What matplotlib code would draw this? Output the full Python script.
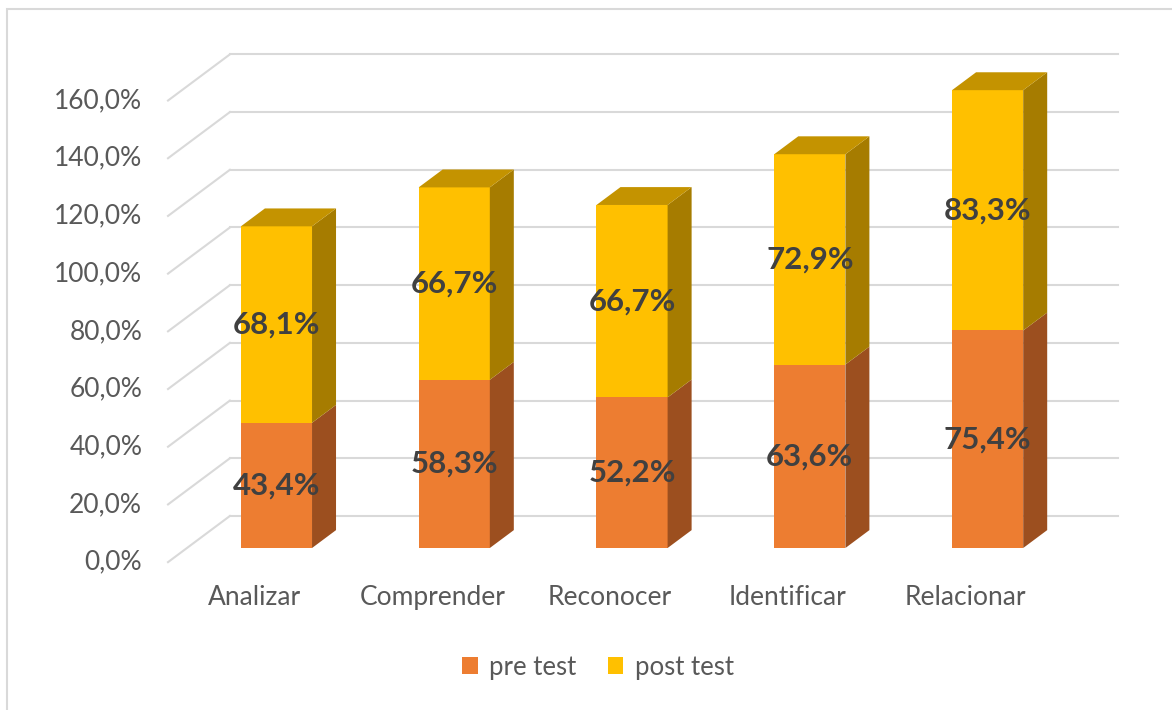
import numpy as np
import matplotlib.pyplot as plt
from matplotlib.patches import Polygon, Rectangle, Patch

categorias = ["Analizar", "Comprender", "Reconocer", "Identificar", "Relacionar"]
pre_test = [43.4, 58.3, 52.2, 63.6, 75.4]
post_test = [68.1, 66.7, 66.7, 72.9, 83.3]
ticks = [0, 20, 40, 60, 80, 100, 120, 140, 160]

plt.rcParams['font.family'] = ['Lato', 'DejaVu Sans']

C_PRE = "#ED7D31"
C_PRE_SIDE = "#9C4F1F"
C_POST = "#FFC000"
C_POST_SIDE = "#A67C00"
C_POST_TOP = "#C49300"
C_GRID = "#D9D9D9"
C_TXT = "#595959"

# pseudo 3d: oblique offsets in data units
W = 0.40               # bar front width (category units)
BDX, BDY = 0.135, 6.2  # bar depth
WDY = 11.1             # bar front -> back wall
FDX, FDY = -0.133, -4.9  # bar front -> front edge of side wall

fig = plt.figure(figsize=(11.72, 7.10), dpi=100)
ax = fig.add_axes([0, 0, 1, 1])
ax.set_xlim(-1.555, 5.037)
ax.set_ylim(-56.15, 189.95)
ax.axis("off")

# chart border (only left and top edges fall inside the image)
fig.patches.append(Rectangle((7 / 1172, -0.1), 1.2, 1.1 - 9 / 710,
                             transform=fig.transFigure, fill=False,
                             ec="#D9D9D9", lw=1.5))

# back wall gridlines and left wall diagonals
x_back0 = -0.262
x_back1 = 4.733
x_front = -0.61
for t in ticks:
    ax.plot([x_back0, x_back1], [t + WDY, t + WDY], color=C_GRID, lw=1.5, zorder=1)
    ax.plot([x_front, x_back0], [t + FDY, t + WDY], color=C_GRID, lw=1.5, zorder=1)
    ax.text(-0.755, t + FDY, f"{t:.1f}%".replace(".", ","), ha="right", va="center",
            fontsize=19, color=C_TXT)


def caja(x0, y0, y1, front, side, top=None):
    x1 = x0 + W
    ax.add_patch(Rectangle((x0, y0), W, y1 - y0, fc=front, ec="none", zorder=3))
    ax.add_patch(Polygon([(x1, y0), (x1 + BDX, y0 + BDY), (x1 + BDX, y1 + BDY), (x1, y1)],
                         closed=True, fc=side, ec="none", zorder=3))
    if top is not None:
        ax.add_patch(Polygon([(x0, y1), (x0 + BDX, y1 + BDY), (x1 + BDX, y1 + BDY), (x1, y1)],
                             closed=True, fc=top, ec="none", zorder=3))


for i, (pre, post) in enumerate(zip(pre_test, post_test)):
    x0 = i - W / 2
    total = pre + post
    caja(x0, 0, pre, C_PRE, C_PRE_SIDE)
    caja(x0, pre, total, C_POST, C_POST_SIDE, C_POST_TOP)
    ax.text(i, pre / 2, f"{pre:.1f}%".replace(".", ","), ha="center", va="center",
            fontsize=22.5, fontweight="bold", color="#404040", zorder=5)
    ax.text(i, pre + post / 2, f"{post:.1f}%".replace(".", ","), ha="center", va="center",
            fontsize=22.5, fontweight="bold", color="#404040", zorder=5)
    ax.text(i + FDX + 0.01, -17, categorias[i], ha="center", va="center",
            fontsize=19, color=C_TXT)

handles = [Patch(fc=C_PRE, label="pre test"), Patch(fc=C_POST, label="post test")]
fig.legend(handles=handles, loc="center", bbox_to_anchor=(598 / 1172, 1 - 667 / 710),
           ncol=2, frameon=False, fontsize=18.5, labelcolor=C_TXT,
           handlelength=0.6, handleheight=0.6, handletextpad=0.45, columnspacing=1.2)

fig.savefig("out.png", dpi=100)
